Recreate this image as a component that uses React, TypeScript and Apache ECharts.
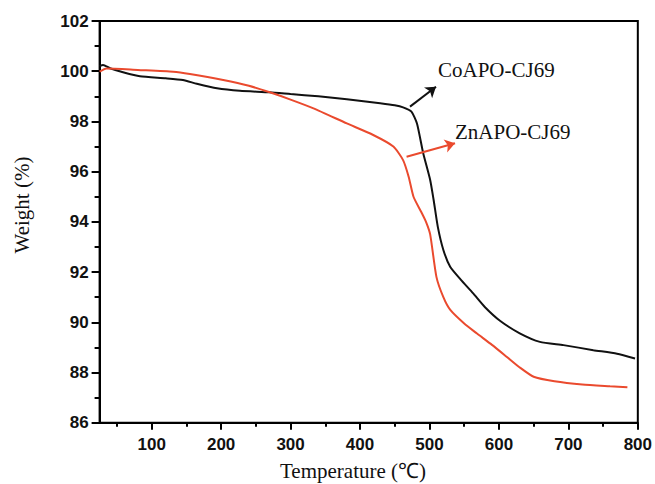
import React, { useEffect, useRef } from "react";
import * as echarts from "echarts";

const coTemps = [25, 30, 40, 60, 83, 120, 145, 165, 194, 227, 270, 300, 340, 381, 429, 450, 462, 474, 482, 491, 501, 506, 512, 520, 530, 545, 563, 580, 602, 630, 659, 693, 736, 770, 796];
const coWeights = [100.2, 100.25, 100.12, 99.95, 99.8, 99.72, 99.65, 99.5, 99.32, 99.22, 99.16, 99.09, 99.0, 98.88, 98.72, 98.64, 98.56, 98.39, 97.92, 96.73, 95.67, 94.87, 93.8, 92.88, 92.2, 91.7, 91.15, 90.6, 90.05, 89.56, 89.22, 89.09, 88.89, 88.75, 88.56];

const znTemps = [25, 35, 80, 131, 155, 203, 240, 270, 299, 333, 381, 419, 448, 462, 470, 477, 488, 495, 501, 510, 520, 530, 550, 568, 590, 611, 630, 650, 680, 720, 760, 785];
const znWeights = [99.98, 100.11, 100.05, 99.98, 99.89, 99.65, 99.42, 99.16, 98.88, 98.52, 97.92, 97.46, 97.0, 96.46, 95.8, 95.0, 94.4, 94.0, 93.5, 91.81, 91.0, 90.49, 89.95, 89.56, 89.1, 88.63, 88.2, 87.83, 87.65, 87.52, 87.45, 87.41];

const xMajorTicks = [100, 200, 300, 400, 500, 600, 700, 800];
const xMinorTicks = [50, 150, 250, 350, 450, 550, 650, 750];

const seriesNames = ["CoAPO-CJ69", "ZnAPO-CJ69"];
const coArrow = [[472, 98.59], [509.4, 99.38]];
const znArrow = [[467, 96.59], [536.8, 97.13]];

const RED = "#ea4a2e";
const BLACK = "#111111";
const SERIF = "'Liberation Serif', 'Times New Roman', serif";
const SANS = "'Liberation Sans', Arial, sans-serif";

export default function App() {
  const ref = useRef<HTMLDivElement>(null);
  useEffect(() => {
    if (!ref.current) return;
    const chart = echarts.init(ref.current, undefined, { renderer: "svg" });
    const pair = (xs: number[], ys: number[]) => xs.map((x, i) => [x, ys[i]]);
    chart.setOption({
      animation: false,
      backgroundColor: "#ffffff",
      grid: {
        left: 99.6,
        right: 17,
        top: 21,
        bottom: 61.3,
        show: true,
        borderColor: "#000",
        borderWidth: 2,
      },
      xAxis: [
        {
          type: "value",
          position: "bottom",
          min: 25,
          max: 800,
          axisLine: { show: true, lineStyle: { color: "#000", width: 2 } },
          axisTick: { show: true, customValues: xMajorTicks, length: 7, lineStyle: { color: "#000", width: 2 } },
          axisLabel: {
            show: true,
            customValues: xMajorTicks,
            margin: 13,
            color: "#111",
            fontFamily: SANS,
            fontWeight: "bold",
            fontSize: 17,
          },
          splitLine: { show: false },
        },
        {
          type: "value",
          position: "bottom",
          min: 25,
          max: 800,
          axisLine: { show: false },
          axisTick: { show: true, customValues: xMinorTicks, length: 4, lineStyle: { color: "#000", width: 2 } },
          axisLabel: { show: false },
          splitLine: { show: false },
        },
      ],
      yAxis: {
        type: "value",
        min: 86,
        max: 102,
        interval: 2,
        axisLine: { show: true, lineStyle: { color: "#000", width: 2 } },
        axisTick: { show: true, length: 8, lineStyle: { color: "#000", width: 2 } },
        minorTick: { show: true, splitNumber: 2, length: 5, lineStyle: { color: "#000", width: 2 } },
        axisLabel: {
          margin: 11,
          color: "#111",
          fontFamily: SANS,
          fontWeight: "bold",
          fontSize: 17,
        },
        splitLine: { show: false },
      },
      series: [
        {
          name: seriesNames[0],
          type: "line",
          data: pair(coTemps, coWeights),
          showSymbol: false,
          smooth: 0.2,
          lineStyle: { color: BLACK, width: 2 },
          itemStyle: { color: BLACK },
          markLine: {
            silent: true,
            symbol: ["none", "arrow"],
            symbolSize: 10,
            label: { show: false },
            lineStyle: { color: BLACK, width: 2, type: "solid" },
            data: [[{ coord: coArrow[0] }, { coord: coArrow[1] }]],
          },
        },
        {
          name: seriesNames[1],
          type: "line",
          data: pair(znTemps, znWeights),
          showSymbol: false,
          smooth: 0.2,
          lineStyle: { color: RED, width: 2 },
          itemStyle: { color: RED },
          markLine: {
            silent: true,
            symbol: ["none", "arrow"],
            symbolSize: 10,
            label: { show: false },
            lineStyle: { color: RED, width: 2, type: "solid" },
            data: [[{ coord: znArrow[0] }, { coord: znArrow[1] }]],
          },
        },
      ],
      graphic: [
        {
          type: "text",
          left: 438,
          top: 59,
          style: { text: seriesNames[0], font: `21px ${SERIF}`, fill: "#111" },
        },
        {
          type: "text",
          left: 455,
          top: 121,
          style: { text: seriesNames[1], font: `21px ${SERIF}`, fill: "#111" },
        },
        {
          type: "text",
          x: 353,
          y: 471,
          style: { text: "Temperature (℃)", font: `21px ${SERIF}`, fill: "#111", align: "center", verticalAlign: "middle" },
        },
        {
          type: "text",
          x: 22,
          y: 205,
          rotation: Math.PI / 2,
          style: { text: "Weight (%)", font: `21px ${SERIF}`, fill: "#111", align: "center", verticalAlign: "middle" },
        },
      ],
    });
    return () => chart.dispose();
  }, []);
  return (
    <div
      ref={ref}
      style={{ position: "fixed", left: 0, top: 0, width: 655, height: 484, background: "#fff" }}
    />
  );
}
